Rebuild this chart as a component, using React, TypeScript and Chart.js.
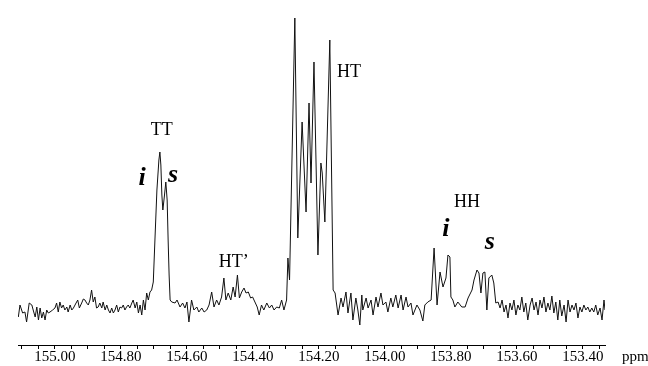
import React, { useEffect, useRef } from "react";
import { Chart, registerables } from "chart.js";

Chart.register(...registerables);

// [chemical shift (ppm), intensity (a.u.)]
const baselineLeft: [number, number][] = [
  [155.111, 28], [155.106, 40], [155.098, 32], [155.091, 33], [155.086, 23], [155.078, 42], [155.07, 40], [155.066, 35], [155.06, 28], [155.055, 38],
  [155.05, 25], [155.045, 37], [155.04, 27], [155.035, 33], [155.03, 25], [155.025, 35], [155.02, 32], [155.015, 33], [155.007, 35], [155.0, 37],
  [154.995, 42], [154.99, 33], [154.985, 43], [154.98, 37], [154.975, 40], [154.97, 35], [154.964, 38], [154.96, 33], [154.954, 40], [154.949, 35],
  [154.944, 37], [154.936, 42], [154.931, 45], [154.926, 37], [154.919, 42], [154.914, 46], [154.909, 45], [154.904, 42], [154.899, 40], [154.894, 45],
  [154.889, 55], [154.884, 43], [154.879, 48], [154.874, 37], [154.869, 38], [154.864, 42], [154.858, 37], [154.854, 43], [154.848, 35], [154.843, 40],
  [154.838, 35], [154.833, 32], [154.828, 37], [154.823, 32], [154.818, 35], [154.813, 40], [154.808, 33], [154.803, 38], [154.798, 37], [154.793, 40],
  [154.788, 35], [154.783, 38], [154.778, 40], [154.773, 37], [154.767, 42], [154.763, 45], [154.757, 37], [154.752, 43], [154.747, 32], [154.742, 40],
  [154.737, 30], [154.732, 45], [154.727, 35], [154.722, 52], [154.717, 45], [154.712, 53], [154.707, 55],
];

const ttPeak: [number, number][] = [
  [154.702, 63], [154.697, 105], [154.691, 155], [154.685, 185], [154.682, 193], [154.679, 180], [154.676, 150], [154.673, 135],
  [154.668, 150], [154.664, 163], [154.66, 145], [154.657, 105], [154.654, 70], [154.651, 45], [154.646, 43],
];

const htPrimeRegion: [number, number][] = [
  [154.636, 42], [154.63, 45], [154.621, 38], [154.613, 42], [154.606, 37], [154.6, 43], [154.594, 23], [154.586, 45], [154.579, 35], [154.57, 38],
  [154.564, 33], [154.555, 37], [154.548, 33], [154.54, 35], [154.533, 40], [154.525, 53], [154.518, 38], [154.51, 45], [154.503, 40], [154.495, 48],
  [154.488, 67], [154.482, 45], [154.475, 52], [154.467, 45], [154.46, 58], [154.454, 48], [154.447, 70], [154.441, 47], [154.434, 53], [154.427, 57],
  [154.421, 52], [154.414, 53], [154.407, 47], [154.401, 48], [154.394, 43], [154.387, 38], [154.381, 30], [154.374, 40], [154.367, 35], [154.358, 42],
  [154.35, 37], [154.343, 40], [154.336, 35], [154.328, 38], [154.32, 37], [154.313, 45], [154.306, 35], [154.298, 45],
];

const htPeaks: [number, number][] = [
  [154.294, 87], [154.289, 65], [154.273, 327], [154.264, 107], [154.251, 223], [154.239, 133], [154.23, 242], [154.224, 162],
  [154.215, 283], [154.203, 90], [154.194, 182], [154.19, 172], [154.182, 123], [154.167, 305], [154.157, 55], [154.151, 52],
];

const midNoise: [number, number][] = [
  [154.142, 30], [154.133, 47], [154.127, 38], [154.118, 53], [154.112, 32], [154.103, 52], [154.097, 25], [154.088, 47], [154.082, 35], [154.076, 20],
  [154.07, 50], [154.067, 35], [154.057, 47], [154.051, 37], [154.042, 45], [154.036, 30], [154.027, 48], [154.021, 38], [154.012, 52], [154.006, 40],
  [153.997, 43], [153.991, 33], [153.982, 47], [153.976, 38], [153.967, 50], [153.96, 37], [153.951, 50], [153.945, 35], [153.936, 48], [153.93, 38],
  [153.921, 42], [153.915, 30], [153.903, 40], [153.894, 35], [153.885, 24], [153.879, 40], [153.87, 43], [153.86, 45],
];

const hhPeaks: [number, number][] = [
  [153.851, 97], [153.842, 40], [153.833, 73], [153.824, 58], [153.815, 67], [153.809, 90], [153.803, 88], [153.8, 48], [153.794, 45], [153.788, 38],
  [153.779, 43], [153.767, 38], [153.757, 38], [153.748, 47], [153.736, 55], [153.73, 65], [153.721, 75], [153.715, 72], [153.709, 52], [153.703, 72],
  [153.697, 73], [153.691, 35], [153.685, 67], [153.676, 70], [153.67, 62], [153.664, 42], [153.657, 43],
];

const baselineRight: [number, number][] = [
  [153.651, 37], [153.645, 45], [153.639, 33], [153.633, 40], [153.627, 27], [153.621, 42], [153.615, 35], [153.609, 45], [153.603, 30], [153.597, 40],
  [153.591, 35], [153.585, 48], [153.579, 33], [153.573, 42], [153.567, 25], [153.56, 40], [153.554, 47], [153.548, 35], [153.542, 43], [153.536, 30],
  [153.53, 45], [153.524, 37], [153.518, 48], [153.512, 33], [153.506, 42], [153.5, 35], [153.494, 49], [153.488, 32], [153.482, 43], [153.476, 25],
  [153.47, 45], [153.464, 29], [153.457, 40], [153.451, 23], [153.445, 45], [153.439, 33], [153.433, 40], [153.427, 35], [153.421, 42], [153.415, 27],
  [153.409, 38], [153.403, 33], [153.397, 40], [153.391, 35], [153.385, 38], [153.379, 33], [153.373, 37], [153.367, 33], [153.361, 40], [153.355, 30],
  [153.348, 37], [153.342, 25], [153.336, 45], [153.333, 35],
];

const labeledTicks = [155.0, 154.8, 154.6, 154.4, 154.2, 154.0, 153.8, 153.6, 153.4];
const minorStep = 0.05;
const axisMin = 153.333;
const axisMax = 155.112;
const axisUnit = "ppm";

type PeakLabel = { text: string; ppm: number; y: number; iso: boolean };
const peakLabels: PeakLabel[] = [
  { text: "TT", ppm: 154.676, y: 210, iso: false },
  { text: "i", ppm: 154.736, y: 160, iso: true },
  { text: "s", ppm: 154.642, y: 163, iso: true },
  { text: "HT\u2019", ppm: 154.458, y: 78, iso: false },
  { text: "HT", ppm: 154.109, y: 268, iso: false },
  { text: "HH", ppm: 153.751, y: 138, iso: false },
  { text: "i", ppm: 153.815, y: 109, iso: true },
  { text: "s", ppm: 153.682, y: 96, iso: true },
];

const SERIF = "'Liberation Serif', 'Times New Roman', serif";

const textPlugin = {
  id: "peakText",
  afterDatasetsDraw(chart: any) {
    const { ctx, scales, chartArea } = chart;
    const xs = scales.x;
    const ys = scales.y;
    ctx.save();
    ctx.fillStyle = "#000";
    ctx.textAlign = "center";
    ctx.textBaseline = "alphabetic";
    for (const l of peakLabels) {
      ctx.font = l.iso ? `italic bold 26px ${SERIF}` : `18px ${SERIF}`;
      ctx.fillText(l.text, xs.getPixelForValue(l.ppm), ys.getPixelForValue(l.y));
    }
    ctx.font = `15px ${SERIF}`;
    ctx.textAlign = "left";
    ctx.textBaseline = "middle";
    ctx.fillText(axisUnit, chartArea.right + 17, chartArea.bottom + 12.5);
    ctx.restore();
  },
};

export default function App() {
  const ref = useRef<HTMLCanvasElement | null>(null);

  useEffect(() => {
    if (!ref.current) return;
    const all = [...baselineLeft, ...ttPeak, ...htPrimeRegion, ...htPeaks, ...midNoise, ...hhPeaks, ...baselineRight];
    const chart = new Chart(ref.current, {
      type: "scatter",
      data: {
        datasets: [
          {
            data: all.map(([x, y]) => ({ x, y })),
            showLine: true,
            borderColor: "#111",
            borderWidth: 1,
            pointRadius: 0,
            tension: 0,
            fill: false,
          },
        ],
      },
      options: {
        animation: false,
        responsive: true,
        maintainAspectRatio: false,
        layout: { padding: { left: 18, right: 43, top: 10, bottom: 0 } },
        plugins: { legend: { display: false }, tooltip: { enabled: false } },
        scales: {
          x: {
            type: "linear",
            reverse: true,
            min: axisMin,
            max: axisMax,
            border: { display: true, color: "#000", width: 1 },
            grid: { display: true, drawOnChartArea: false, drawTicks: true, tickLength: 4, color: "#000", tickColor: "#000" },
            ticks: {
              stepSize: minorStep,
              includeBounds: false,
              autoSkip: false,
              maxRotation: 0,
              minRotation: 0,
              padding: 1,
              color: "#000",
              font: { family: SERIF, size: 15, lineHeight: 1 },
              callback: (v: any) => {
                const n = Number(v);
                return labeledTicks.some((t) => Math.abs(t - n) < 1e-6) ? n.toFixed(2) : "";
              },
            },
          },
          y: { display: false, min: 0, max: 335 },
        },
      },
      plugins: [textPlugin],
    });
    return () => chart.destroy();
  }, []);

  return (
    <div style={{ position: "fixed", left: 0, top: 0, width: 648, height: 366, background: "#fff" }}>
      <canvas ref={ref} />
    </div>
  );
}
